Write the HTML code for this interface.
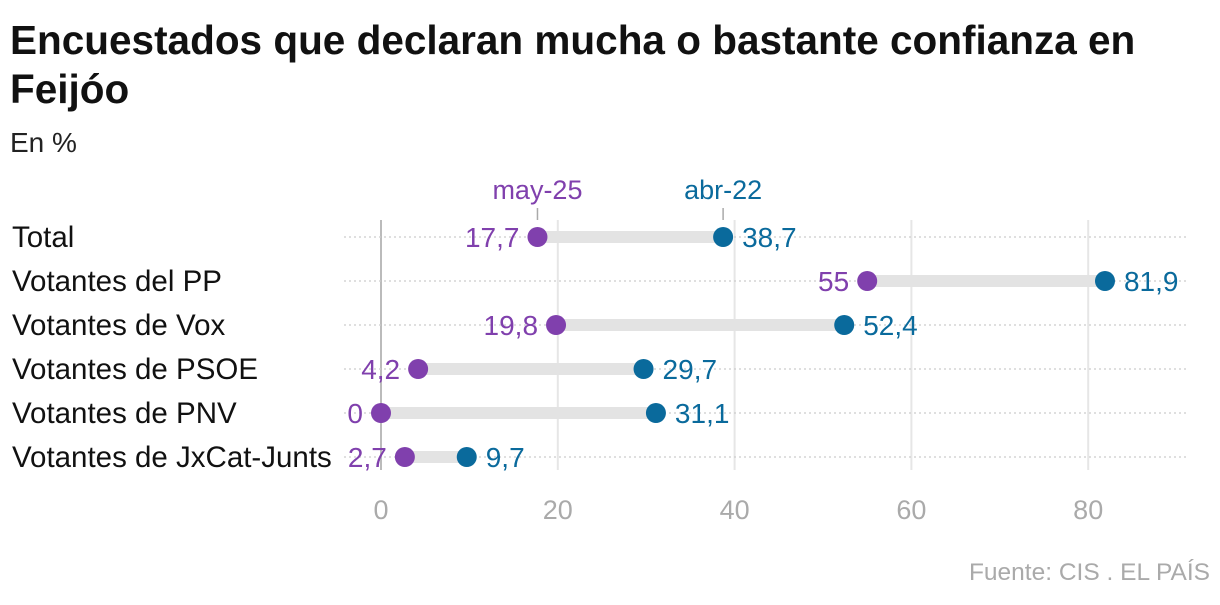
<!DOCTYPE html>
<html><head><meta charset="utf-8"><style>
body{margin:0;background:#fff;width:1220px;height:600px;overflow:hidden;font-family:"Liberation Sans",sans-serif}
</style></head><body>
<svg width="1220" height="600" style="font-family:'Liberation Sans',sans-serif">
<text x="10" y="54" font-size="40.5" font-weight="bold" fill="#111">Encuestados que declaran mucha o bastante confianza en</text>
<text x="10" y="103" font-size="40.5" font-weight="bold" fill="#111">Feijóo</text>
<text x="10" y="152" font-size="28" fill="#222">En %</text>
<g id="grid"></g><g id="rows"></g>
<text x="1210" y="580" text-anchor="end" font-size="24.5" fill="#aaa">Fuente: CIS . EL PAÍS</text>
</svg>
<script>
const categories=["Total","Votantes del PP","Votantes de Vox","Votantes de PSOE","Votantes de PNV","Votantes de JxCat-Junts"];
const may25=[17.7,55,19.8,4.2,0,2.7];
const abr22=[38.7,81.9,52.4,29.7,31.1,9.7];
const ticks=[0,20,40,60,80];
const PURPLE="#8040ad",BLUE="#0a6a9c",NS="http://www.w3.org/2000/svg";
const x=v=>381+v*8.84, y=i=>237+i*44;
const fmt=v=>String(v).replace('.',',');
function el(t,a,p,txt){const e=document.createElementNS(NS,t);for(const k in a)e.setAttribute(k,a[k]);if(txt!==undefined)e.textContent=txt;p.appendChild(e);return e;}
const g=document.getElementById('grid'),r=document.getElementById('rows');
ticks.forEach(t=>{
 const l=el('line',{x1:x(t),x2:x(t),y1:220,y2:470,stroke:t===0?'#bbb':'#e6e6e6','stroke-width':2},g);
 
 
 const tx=el('text',{x:x(t),y:519,'text-anchor':'middle','font-size':27,fill:'#aaa'},g,String(t));
 
 
});
categories.forEach((c,i)=>{
 const d=el('line',{x1:344,x2:1186,y1:y(i),y2:y(i),stroke:'#ccc','stroke-width':1.2,'stroke-dasharray':'2 3'},g);
 
 
 const lab=el('text',{x:12,y:y(i)+10,'font-size':29.5,fill:'#111'},r,c);
 
 
 const a=may25[i],b=abr22[i];
 const bar=el('line',{x1:x(a),x2:x(b),y1:y(i),y2:y(i),stroke:'#e3e3e3','stroke-width':12},r);
 
 
 const p=el('circle',{cx:x(a),cy:y(i),r:10,fill:PURPLE},r);
 
 
 const q=el('circle',{cx:x(b),cy:y(i),r:10,fill:BLUE},r);
 
 
 const pl=el('text',{x:x(a)-18,y:y(i)+10,'text-anchor':'end','font-size':28,fill:PURPLE},r,fmt(a));
 
 
 const ql=el('text',{x:x(b)+19,y:y(i)+10,'font-size':28,fill:BLUE},r,fmt(b));
 
 
 if(i===0){
  const h1=el('text',{x:x(a),y:199,'text-anchor':'middle','font-size':27,fill:PURPLE},r,'may-25');
  
  
  const h2=el('text',{x:x(b),y:199,'text-anchor':'middle','font-size':27,fill:BLUE},r,'abr-22');
  
  
  [a,b].forEach(v=>{const t=el('line',{x1:x(v),x2:x(v),y1:208,y2:220,stroke:'#aaa','stroke-width':1.5},r);
   
   });
 }
});
</script>
</body></html>
